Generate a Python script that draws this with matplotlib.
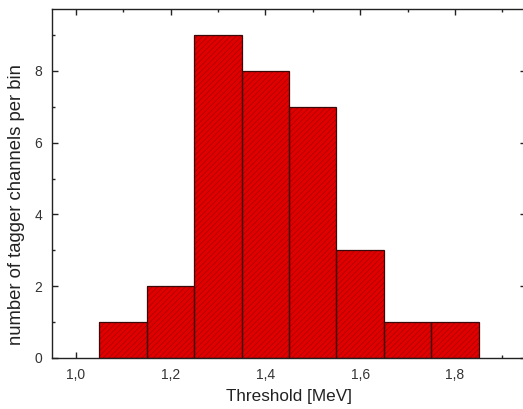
"""Threshold distribution of tagger channels, drawn as a hatched histogram."""

import matplotlib as mpl
import matplotlib.pyplot as plt
from matplotlib.ticker import FuncFormatter, MultipleLocator

# Bin centres [MeV] and number of channels in each bin.
bin_centers = [1.1, 1.2, 1.3, 1.4, 1.5, 1.6, 1.7, 1.8]
counts = [1, 2, 9, 8, 7, 3, 1, 1]
bin_width = 0.1

x_ticks = [1.0, 1.2, 1.4, 1.6, 1.8]
y_ticks = [0, 2, 4, 6, 8]

mpl.rcParams.update(
    {
        "font.family": ["Liberation Sans", "DejaVu Sans"],
        "hatch.linewidth": 0.5,
        "axes.linewidth": 1.0,
    }
)

fig = plt.figure(figsize=(5.23, 4.09), dpi=100)
# right spine sits just past the image edge, as in the original export
ax = fig.add_axes([0.0995, 0.1247, 0.9065, 0.8526])

# hatch colour follows edgecolor, so fill + hatch first, outline second
ax.bar(bin_centers, counts, width=bin_width, color="#e00000",
       edgecolor="#a80000", hatch="//////", linewidth=0, zorder=2)
ax.bar(bin_centers, counts, width=bin_width, fill=False,
       edgecolor="#3a0a0a", linewidth=0.9, zorder=3)

ax.set_xlim(0.95, 1.95)
ax.set_ylim(0, 9.72)
ax.set_xticks(x_ticks)
ax.set_yticks(y_ticks)
ax.xaxis.set_minor_locator(MultipleLocator(0.1))
ax.yaxis.set_minor_locator(MultipleLocator(1))
ax.xaxis.set_major_formatter(FuncFormatter(lambda v, _: f"{v:.1f}".replace(".", ",")))

ax.tick_params(which="both", direction="in", top=True, right=True,
               colors="#222222", labelcolor="#333333", labelsize=10)
ax.tick_params(which="major", length=4.2, width=1.0, pad=7)
ax.tick_params(which="minor", length=2.4, width=1.0)
for s in ax.spines.values():
    s.set_color("#222222")

ax.set_xlabel("Threshold [MeV]", fontsize=12.3, color="#222222", labelpad=5)
ax.set_ylabel("number of tagger channels per bin", fontsize=13.3,
              color="#222222")
ax.yaxis.set_label_coords(-0.058, 0.44)

fig.savefig("out.png", dpi=100)
